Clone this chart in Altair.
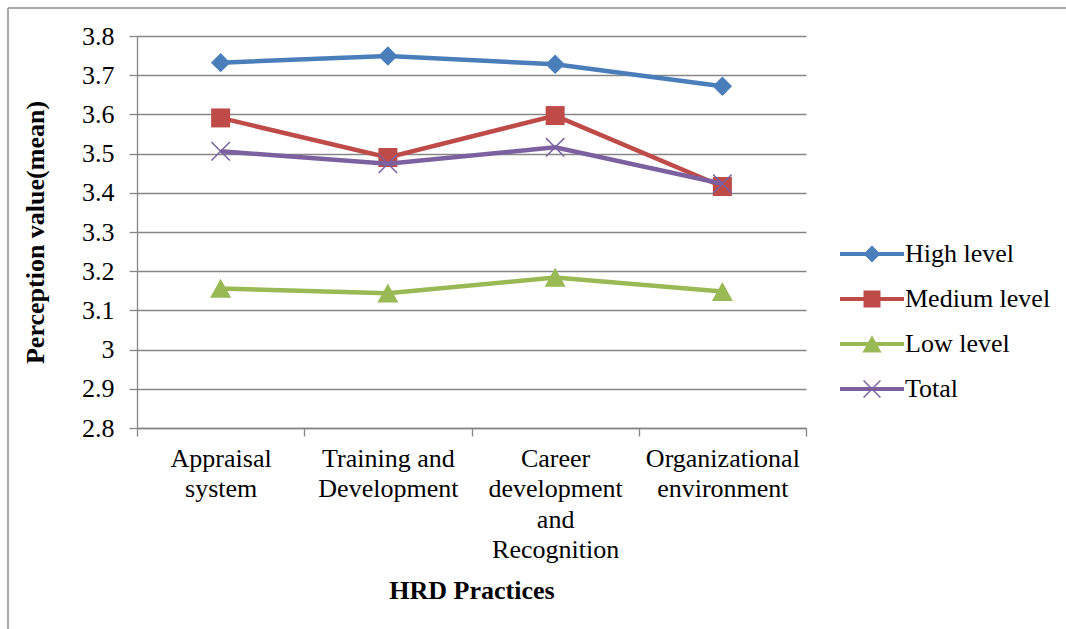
import math
import altair as alt
import pandas as pd

# ---------------- data ----------------
categories = [
    "Appraisal\nsystem",
    "Training and\nDevelopment",
    "Career\ndevelopment\nand\nRecognition",
    "Organizational\nenvironment",
]
series_names = ["High level", "Medium level", "Low level", "Total"]
high_values = [3.732, 3.749, 3.728, 3.672]
medium_values = [3.591, 3.490, 3.597, 3.416]
low_values = [3.156, 3.144, 3.184, 3.148]
total_values = [3.506, 3.474, 3.516, 3.423]
y_ticks = [2.8, 2.9, 3.0, 3.1, 3.2, 3.3, 3.4, 3.5, 3.6, 3.7, 3.8]

colors = ["#4A7EBB", "#BE4B48", "#98B954", "#7D60A0"]

rows = []
for name, vals in zip(series_names, [high_values, medium_values, low_values, total_values]):
    for c, v in zip(categories, vals):
        rows.append({"category": c, "series": name, "value": v})
df = pd.DataFrame(rows)
legend_df = pd.DataFrame({"series": series_names})

# ---------------- marker shapes (style) ----------------
def fmt(p):
    return "L".join(f"{x:.3f},{y:.3f}" for x, y in p)

def poly(points):
    return "M" + fmt(points) + "Z"

def x_points(half, w):
    L = half * math.sqrt(2)
    pts = [(-w, -L), (w, -L), (w, -w), (L, -w), (L, w), (w, w), (w, L),
           (-w, L), (-w, w), (-L, w), (-L, -w), (-w, -w)]
    s = 1 / math.sqrt(2)
    return [((x - y) * s, (x + y) * s) for x, y in pts]

def diamond(h):
    return [(0, -h), (h, 0), (0, h), (-h, 0)]

def square(h):
    return [(-h, -h), (h, -h), (h, h), (-h, h)]

def triangle(hw, top, bot):
    return [(0, top), (hw, bot), (-hw, bot)]

marker_paths = [
    poly(diamond(0.97)),
    poly(square(0.95)),
    poly(triangle(1.05, -0.97, 0.93)),
    poly(x_points(0.92, 0.075)),
]
bar = poly([(-4, -0.25), (4, -0.25), (4, 0.25), (-4, 0.25)])
legend_paths = [
    bar + poly(diamond(1.06)),
    bar + poly(square(1.06)),
    bar + poly(triangle(1.19, -1.1, 1.05)),
    bar + poly(x_points(1.05, 0.09)),
]

FONT = "Liberation Serif"
GRID = "#868686"

x_enc = alt.X(
    "category:N",
    sort=categories,
    bandPosition=0.5,
    scale=alt.Scale(type="band", paddingInner=0, paddingOuter=0, domain=categories),
    axis=alt.Axis(
        title="HRD Practices",
        titleFont=FONT, titleFontSize=26, titleFontWeight="bold", titleColor="black",
        titleY=162, titleBaseline="middle",
        labelFont=FONT, labelFontSize=26, labelColor="black", labelAngle=0,
        labelExpr="split(datum.label, '\\n')", labelLineHeight=30.5,
        labelBaseline="top", labelPadding=9,
        tickBand="extent", tickSize=8, tickColor=GRID, tickWidth=1.3,
        domainColor=GRID, domainWidth=1.3, grid=False,
    ),
)
y_enc = alt.Y(
    "value:Q",
    scale=alt.Scale(domain=[2.8, 3.8], nice=False, zero=False),
    axis=alt.Axis(
        values=y_ticks, format=".1~f",
        title="Perception value(mean)",
        titleFont=FONT, titleFontSize=26, titleFontWeight="bold", titleColor="black",
        titleAngle=-90, titleX=-102, titleY=196, titleAlign="center", titleBaseline="middle",
        labelFont=FONT, labelFontSize=26, labelColor="black", labelPadding=15,
        tickSize=8, tickColor=GRID, tickWidth=1.3,
        domainColor=GRID, domainWidth=1.3,
        grid=True, gridColor=GRID, gridWidth=1.3,
    ),
)

base = alt.Chart(df)
layers = []
for name, col, path in zip(series_names, colors, marker_paths):
    sub = base.transform_filter(alt.datum.series == name)
    layers.append(sub.mark_line(strokeWidth=4.5, color=col).encode(x=x_enc, y=y_enc))
    layers.append(
        sub.mark_point(filled=True, size=400, shape=path, color=col, opacity=1, strokeWidth=0)
        .encode(x=x_enc, y=y_enc)
    )

legend_layer = alt.Chart(legend_df).mark_point(filled=True, size=256, clip=True, opacity=1).encode(
    x=alt.value(-5000),
    y=alt.value(-5000),
    color=alt.Color("series:N", sort=series_names,
                    scale=alt.Scale(domain=series_names, range=colors),
                    legend=alt.Legend(title=None)),
    shape=alt.Shape("series:N", sort=series_names,
                    scale=alt.Scale(domain=series_names, range=legend_paths),
                    legend=alt.Legend(
                        title=None, orient="none", legendX=722, legendY=205,
                        labelFont=FONT, labelFontSize=26, labelColor="black",
                        labelOffset=20, rowPadding=19, padding=0,
                        symbolSize=256, symbolStrokeWidth=0, symbolOpacity=1,
                    )),
)

frame_df = pd.DataFrame({"k": [0]})
frame_left = alt.Chart(frame_df).mark_rule(color="#8c8c8c", strokeWidth=1.5).encode(
    x=alt.value(-129), y=alt.value(-28), y2=alt.value(640)
)
frame_top = alt.Chart(frame_df).mark_rule(color="#8c8c8c", strokeWidth=1.5).encode(
    x=alt.value(-129), x2=alt.value(940), y=alt.value(-28)
)

chart = (
    alt.layer(frame_left, frame_top, *layers, legend_layer)
    .properties(
        width=669, height=392,
        autosize=alt.AutoSizeParams(type="none"),
        padding={"left": 137, "top": 36, "right": 260, "bottom": 201},
        background="white",
    )
    .configure_view(stroke=None)
    .configure_legend(orient="none", legendX=722, legendY=205)
)

chart.save("out.html", embed_options={"renderer": "svg", "actions": False})
